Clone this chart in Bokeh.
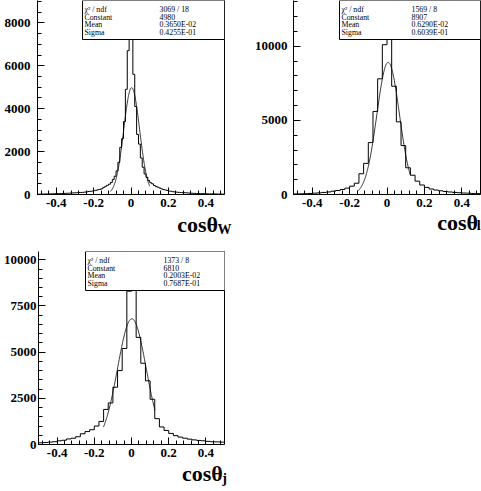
import numpy as np
from bokeh.plotting import figure
from bokeh.models import FixedTicker, LinearAxis, Range1d, BoxAnnotation, Label
from bokeh.layouts import column, row
from bokeh.embed import file_html
from bokeh.resources import INLINE

FONT = "Liberation Serif"

# ---------------- data ----------------
x_major = [-0.4, -0.2, 0.0, 0.2, 0.4]
x_major_labels = ["-0.4", "-0.2", "0", "0.2", "0.4"]
x_minor = [-0.48, -0.44, -0.40, -0.36, -0.32, -0.28, -0.24, -0.20, -0.16, -0.12,
           -0.08, -0.04, 0.0, 0.04, 0.08, 0.12, 0.16, 0.20, 0.24, 0.28, 0.32,
           0.36, 0.40, 0.44, 0.48]

# cos(theta_W): 100 bins on [-0.5, 0.5]
w_bins = (-0.5, 0.5, 100)
w_counts = [15, 15, 20, 20, 25, 25, 30, 30, 35, 35,
            40, 40, 45, 45, 50, 55, 60, 65, 70, 75,
            80, 85, 90, 95, 100, 115, 125, 140, 150, 160,
            180, 200, 220, 240, 270, 330, 380, 430, 480, 560,
            700, 850, 1100, 1500, 2200, 2600, 3400, 4900, 6700, 8600,
            8600, 5600, 4100, 2800, 2350, 1700, 1270, 960, 800, 650,
            550, 500, 420, 370, 340, 300, 260, 230, 210, 190,
            160, 150, 130, 120, 110, 100, 95, 90, 85, 80,
            70, 65, 60, 55, 50, 45, 45, 40, 40, 35,
            35, 30, 30, 30, 25, 25, 20, 20, 20, 15]
w_ymax = 9040
w_yticks = [0, 2000, 4000, 6000, 8000]
w_yminor = [0, 500, 1000, 1500, 2000, 2500, 3000, 3500, 4000, 4500, 5000,
            5500, 6000, 6500, 7000, 7500, 8000, 8500, 9000]
w_stats = ["3069 / 18", "4980", "0.3650E-02", "0.4255E-01"]
w_fit = (4980, 0.3650E-02, 0.4255E-01, -0.11, 0.10)

# cos(theta_l): 40 bins on [-0.5, 0.5]
l_bins = (-0.5, 0.5, 40)
l_counts = [40, 45, 55, 70, 90, 110, 140, 170, 220, 270,
            340, 430, 560, 760, 1400, 2100, 3500, 5600, 7800, 10100,
            10800, 7300, 4900, 3300, 1800, 1300, 900, 640, 480, 370,
            300, 250, 200, 170, 140, 120, 100, 90, 70, 60]
l_ymax = 13080
l_yticks = [0, 5000, 10000]
l_yminor = [0, 1000, 2000, 3000, 4000, 5000, 6000, 7000, 8000, 9000, 10000,
            11000, 12000, 13000]
l_stats = ["1569 / 8", "8907", "0.6290E-02", "0.6039E-01"]
l_fit = (8907, 0.6290E-02, 0.6039E-01, -0.16, 0.125)

# cos(theta_j): 40 bins on [-0.5, 0.5]
j_bins = (-0.5, 0.5, 40)
j_counts = [90, 110, 130, 150, 200, 230, 300, 340, 420, 580,
            700, 800, 1000, 1250, 1900, 2250, 3100, 4000, 5200, 8300,
            8450, 5800, 4400, 3450, 2450, 1400, 950, 760, 600, 480,
            400, 340, 290, 250, 220, 200, 170, 150, 140, 130]
j_ymax = 10450
j_yticks = [0, 2500, 5000, 7500, 10000]
j_yminor = [0, 500, 1000, 1500, 2000, 2500, 3000, 3500, 4000, 4500, 5000,
            5500, 6000, 6500, 7000, 7500, 8000, 8500, 9000, 9500, 10000]
j_stats = ["1373 / 8", "6810", "0.2003E-02", "0.7687E-01"]
j_fit = (6810, 0.2003E-02, 0.7687E-01, -0.151, 0.126)

stat_names = ["\u03c7\u00b2 / ndf", "Constant", "Mean", "Sigma"]

# font metrics of Liberation Serif (fraction of em) used to place the axis titles
ASC, DESC = 0.891, 0.216
TICK_PX, TITLE_PX, SUB_PX = 13, 22, 14
X_STANDOFF = 4


def text_axis(pos, txt, size, standoff):
    return LinearAxis(ticker=FixedTicker(ticks=[pos], minor_ticks=[]),
                      major_label_overrides={pos: txt},
                      axis_line_color=None, major_tick_line_color=None,
                      minor_tick_line_color=None,
                      major_tick_in=0, major_tick_out=0, minor_tick_in=0, minor_tick_out=0,
                      major_label_standoff=int(round(standoff)), major_label_text_font=FONT,
                      major_label_text_font_style="bold",
                      major_label_text_font_size=f"{size}px", major_label_text_color="black")


def panel(bins, counts, ymax, yticks, yminor, stats, fit, sub, title_pos, sub_pos,
          cos_base, sub_base, W, H, bl, br, bt, bb, ystand, box_left, val_off):
    p = figure(width=W, height=H, output_backend="svg", toolbar_location=None,
               x_range=Range1d(-0.5, 0.5), y_range=Range1d(0, ymax),
               min_border_left=bl, min_border_right=br,
               min_border_top=bt, min_border_bottom=bb)
    p.xgrid.visible = False
    p.ygrid.visible = False
    p.outline_line_color = None
    p.background_fill_color = "white"
    p.border_fill_color = "white"

    xa = p.xaxis[0]
    xa.ticker = FixedTicker(ticks=x_major, minor_ticks=x_minor)
    xa.major_label_overrides = {t: l for t, l in zip(x_major, x_major_labels)}
    ya = p.yaxis[0]
    ya.ticker = FixedTicker(ticks=yticks, minor_ticks=yminor)
    for ax in (xa, ya):
        ax.axis_line_color = "black"
        ax.axis_line_width = 1
        ax.major_tick_in = 7
        ax.major_tick_out = 0
        ax.minor_tick_in = 4
        ax.minor_tick_out = 0
        ax.major_tick_line_color = "black"
        ax.minor_tick_line_color = "black"
        ax.major_label_text_font = FONT
        ax.major_label_text_font_style = "bold"
        ax.major_label_text_font_size = f"{TICK_PX}px"
        ax.major_label_text_color = "black"
    xa.major_label_standoff = X_STANDOFF
    ya.major_label_standoff = ystand
    ra = LinearAxis(ticker=FixedTicker(ticks=[]), major_tick_in=0, major_tick_out=0,
                    minor_tick_in=0, minor_tick_out=0, major_label_standoff=0,
                    axis_line_color="black", major_label_text_font_size="0px")
    p.add_layout(ra, "right")

    # axis title: cos(theta) + subscript, as label-only axes stacked below
    main_bottom = X_STANDOFF + TICK_PX * (ASC + DESC)
    sub_top = sub_base - SUB_PX * ASC
    s_sub = sub_top - main_bottom
    sub_bottom = sub_top + SUB_PX * (ASC + DESC)
    cos_top = cos_base - TITLE_PX * ASC
    s_cos = cos_top - sub_bottom
    p.add_layout(text_axis(sub_pos, sub, SUB_PX, s_sub), "below")
    p.add_layout(text_axis(title_pos, "cos\u03b8", TITLE_PX, s_cos), "below")

    # histogram outline
    lo, hi, n = bins
    edges = np.linspace(lo, hi, n + 1)
    hx = np.repeat(edges, 2)
    hy = np.concatenate([[0], np.repeat(np.asarray(counts, float), 2), [0]])
    p.line(hx, hy, line_color="black", line_width=1)

    # gaussian fit drawn from the fitted parameters
    c, m, s, flo, fhi = fit
    fx = np.linspace(flo, fhi, 200)
    fy = c * np.exp(-0.5 * ((fx - m) / s) ** 2)
    p.line(fx, fy, line_color="black", line_width=0.8)

    # stats box (frame-relative screen units)
    fw = W - bl - br
    fh = H - bt - bb
    box = BoxAnnotation(left=box_left, right=fw, top=fh, bottom=fh - 39,
                        left_units="screen", right_units="screen",
                        top_units="screen", bottom_units="screen",
                        fill_color="white", fill_alpha=1.0,
                        line_color="black", line_width=1, line_alpha=1.0)
    p.add_layout(box)
    for i, (nm, v) in enumerate(zip(stat_names, stats)):
        yy = fh - (9 + 7.67 * i)
        p.add_layout(Label(x=box_left + 2, y=yy, x_units="screen", y_units="screen",
                           text=nm, text_font=FONT, text_font_size="7.8px",
                           text_baseline="middle", text_color="black"))
        p.add_layout(Label(x=box_left + val_off, y=yy, x_units="screen", y_units="screen",
                           text=v, text_font=FONT, text_font_size="7.8px",
                           text_baseline="middle", text_color="black"))
    return p


p1 = panel(w_bins, w_counts, w_ymax, w_yticks, w_yminor, w_stats, w_fit, "W", 0.356, 0.5,
           38, 43, W=240, H=245, bl=37, br=16, bt=0, bb=51, ystand=7,
           box_left=45, val_off=77)
p2 = panel(l_bins, l_counts, l_ymax, l_yticks, l_yminor, l_stats, l_fit, "l", 0.378, 0.5,
           36, 39, W=241, H=245, bl=53, br=1, bt=0, bb=51, ystand=6,
           box_left=46, val_off=72)
p3 = panel(j_bins, j_counts, j_ymax, j_yticks, j_yminor, j_stats, j_fit, "j", 0.381, 0.5,
           37, 42, W=240, H=246, bl=35, br=16, bt=6, bb=47, ystand=2,
           box_left=47, val_off=78)

layout = column(row(p1, p2), p3)
open("out.html", "w").write(file_html(layout, INLINE))
